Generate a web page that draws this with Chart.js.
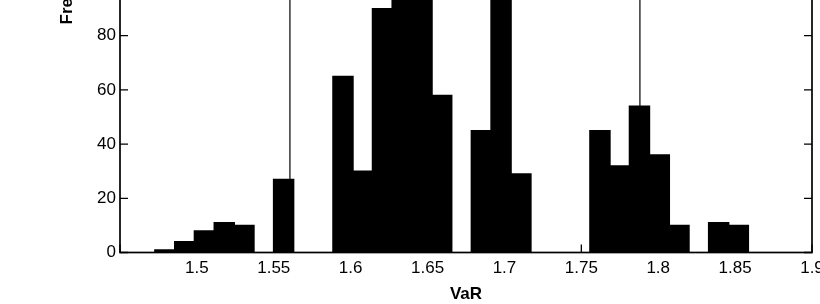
<!DOCTYPE html>
<html>
<head>
<meta charset="utf-8">
<script src="https://cdn.jsdelivr.net/npm/chart.js@4"></script>
<style>
  html, body { margin: 0; padding: 0; background: #fff; overflow: hidden; width: 820px; height: 304px; }
  #wrap { position: absolute; left: 0; top: -320px; width: 860px; height: 625px; }
</style>
</head>
<body>
<div id="wrap"><canvas id="c" width="860" height="625"></canvas></div>
<script>
// ---- data ----
const binCenters = [1.4792, 1.4921, 1.5049, 1.5178, 1.5306, 1.5435, 1.5564, 1.5692, 1.5821, 1.5950,
                    1.6078, 1.6207, 1.6335, 1.6464, 1.6592, 1.6721, 1.6850, 1.6978, 1.7107, 1.7235,
                    1.7364, 1.7493, 1.7621, 1.7750, 1.7878, 1.8007, 1.8135, 1.8264, 1.8393, 1.8521];
const frequencies = [1, 4, 8, 11, 10, 0, 27, 0, 0, 65,
                     30, 90, 160, 171, 58, 0, 45, 93, 29, 0,
                     0, 0, 45, 32, 54, 36, 10, 0, 11, 10];
const markerLines = [1.5605, 1.7881];
const xTickLabels = ['1.5', '1.55', '1.6', '1.65', '1.7', '1.75', '1.8', '1.85', '1.9'];
const xRange = [1.45, 1.9];
const yRange = [0, 200];
const xTitle = 'VaR';
const yTitle = 'Frequency';

const FONT = '"Liberation Sans", Arial, Helvetica, sans-serif';
Chart.defaults.font.family = FONT;
Chart.defaults.color = '#000';

const barData = binCenters.map((c, i) => ({ x: c, y: frequencies[i] }));
const lineSets = markerLines.map(v => ({
  type: 'line',
  data: [{ x: v, y: yRange[0] }, { x: v, y: yRange[1] }],
  borderColor: '#000',
  borderWidth: 1.2,
  pointRadius: 0,
  fill: false,
  order: 0
}));

const matlabAxes = {
  id: 'matlabAxes',
  beforeDatasetsDraw(chart) {
    const { ctx, chartArea: a, scales: { x, y } } = chart;
    ctx.save();
    ctx.strokeStyle = '#000';
    ctx.lineWidth = 1.3;
    ctx.beginPath();
    x.ticks.forEach(t => {
      const px = x.getPixelForValue(t.value);
      ctx.moveTo(px, a.bottom); ctx.lineTo(px, a.bottom - 8);
      ctx.moveTo(px, a.top); ctx.lineTo(px, a.top + 8);
    });
    y.ticks.forEach(t => {
      const py = y.getPixelForValue(t.value);
      ctx.moveTo(a.left, py); ctx.lineTo(a.left + 8, py);
      ctx.moveTo(a.right, py); ctx.lineTo(a.right - 8, py);
    });
    ctx.stroke();
    ctx.restore();
  },
  afterDatasetsDraw(chart) {
    const { ctx, chartArea: a } = chart;
    ctx.save();
    ctx.strokeStyle = '#000';
    ctx.lineWidth = 1.7;
    ctx.strokeRect(a.left, a.top, a.right - a.left, a.bottom - a.top);
    ctx.restore();
  }
};

new Chart(document.getElementById('c'), {
  type: 'bar',
  data: {
    datasets: [{
      type: 'bar',
      data: barData,
      backgroundColor: '#000',
      borderWidth: 0,
      inflateAmount: 0.6,
      barPercentage: 1.03,
      categoryPercentage: 1,
      order: 1
    }, ...lineSets]
  },
  options: {
    responsive: false,
    animation: false,
    devicePixelRatio: 1,
    layout: { padding: { left: 0, top: 30.5, right: 48, bottom: 0 } },
    plugins: { legend: { display: false }, tooltip: { enabled: false } },
    scales: {
      x: {
        type: 'linear',
        min: xRange[0], max: xRange[1],
        offset: false,
        grid: { display: false, drawTicks: false, tickLength: 0 },
        border: { display: false },
        ticks: {
          stepSize: 0.05,
          autoSkip: false,
          maxRotation: 0,
          padding: 6,
          font: { size: 17 },
          callback: (v) => {
            const s = String(Math.round(v * 100) / 100);
            return xTickLabels.includes(s) ? s : '';
          }
        },
        title: { display: true, text: xTitle, font: { size: 17, weight: 'bold' }, padding: { top: 0, bottom: 0 } },
        afterFit(scale) { scale.height = 52.5; }
      },
      y: {
        min: yRange[0], max: yRange[1],
        grid: { display: false, drawTicks: false, tickLength: 0 },
        border: { display: false },
        ticks: { stepSize: 20, padding: 4, font: { size: 17 } },
        title: { display: true, text: yTitle, font: { size: 17, weight: 'bold' }, padding: { top: 56.8, bottom: 0 } },
        afterFit(scale) { scale.width = 120; }
      }
    }
  },
  plugins: [matlabAxes]
});
</script>
</body>
</html>
